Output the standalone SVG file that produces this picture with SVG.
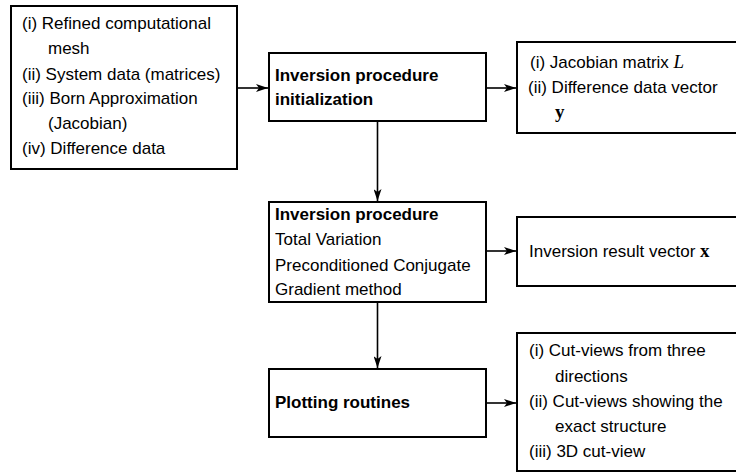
<svg xmlns="http://www.w3.org/2000/svg" width="736" height="472" viewBox="0 0 736 472">
<defs>
<style>
.box{fill:#fff;stroke:#000;stroke-width:2}
.t{font-family:"Liberation Sans",Arial,sans-serif;font-size:17px;fill:#000}
.b{font-weight:bold}
.m{font-family:"Liberation Serif","Times New Roman",serif;font-size:19px}
.c{stroke:#000;stroke-width:1.6;fill:none}
</style>
<marker id="ah" viewBox="0 0 12 8" refX="12" refY="4" markerWidth="12" markerHeight="8" markerUnits="userSpaceOnUse" orient="auto">
<path d="M0,0 L12,4 L0,8 L3,4 Z" fill="#000"/>
</marker>
</defs>
<g id="connectors">
<line class="c" x1="237" y1="88" x2="268" y2="88" marker-end="url(#ah)"/>
<line class="c" x1="486" y1="88" x2="516" y2="88" marker-end="url(#ah)"/>
<line class="c" x1="377.5" y1="121" x2="377.5" y2="201" marker-end="url(#ah)"/>
<line class="c" x1="486" y1="251" x2="516" y2="251" marker-end="url(#ah)"/>
<line class="c" x1="377.5" y1="302" x2="377.5" y2="368" marker-end="url(#ah)"/>
<line class="c" x1="486" y1="403" x2="516" y2="403" marker-end="url(#ah)"/>
</g>
<g id="inputs">
<rect class="box" x="11" y="6" width="226" height="163"/>
<text class="t" x="22" y="29">(i) Refined computational</text>
<text class="t" x="48" y="54">mesh</text>
<text class="t" x="22" y="80">(ii) System data (matrices)</text>
<text class="t" x="22" y="104">(iii) Born Approximation</text>
<text class="t" x="48" y="129">(Jacobian)</text>
<text class="t" x="22" y="154">(iv) Difference data</text>
</g>
<g id="init">
<rect class="box" x="269" y="53" width="217" height="68"/>
<text class="t b" x="275" y="81">Inversion procedure</text>
<text class="t b" x="275" y="105">initialization</text>
</g>
<g id="init-out">
<rect class="box" x="517" y="42" width="222" height="91"/>
<text class="t" x="530" y="68">(i) Jacobian matrix <tspan class="m" font-style="italic">L</tspan></text>
<text class="t" x="528" y="93">(ii) Difference data vector</text>
<text class="m" x="555" y="118" font-weight="bold">y</text>
</g>
<g id="inversion">
<rect class="box" x="269" y="202" width="217" height="100"/>
<text class="t b" x="275" y="220">Inversion procedure</text>
<text class="t" x="275" y="245">Total Variation</text>
<text class="t" x="275" y="271">Preconditioned Conjugate</text>
<text class="t" x="275" y="295">Gradient method</text>
</g>
<g id="result">
<rect class="box" x="517" y="217" width="222" height="69"/>
<text class="t" x="529" y="257">Inversion result vector <tspan class="m" font-weight="bold">x</tspan></text>
</g>
<g id="plotting">
<rect class="box" x="269" y="369" width="217" height="68"/>
<text class="t b" x="275" y="408">Plotting routines</text>
</g>
<g id="plots">
<rect class="box" x="517" y="333" width="222" height="138"/>
<text class="t" x="529" y="356">(i) Cut-views from three</text>
<text class="t" x="555" y="382">directions</text>
<text class="t" x="529" y="407">(ii) Cut-views showing the</text>
<text class="t" x="555" y="432">exact structure</text>
<text class="t" x="529" y="457">(iii) 3D cut-view</text>
</g>
</svg>
